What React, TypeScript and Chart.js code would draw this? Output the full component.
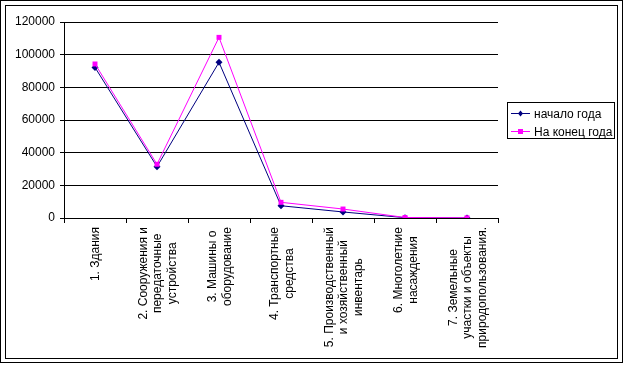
import React, { useEffect, useRef } from "react";
import { Chart, registerables } from "chart.js";

Chart.register(...registerables);

const categories: string[][] = [
  ["1. Здания"],
  ["2. Сооружения и", "передаточные", "устройства"],
  ["3. Машины о", "оборудование"],
  ["4. Транспортные", "средства"],
  ["5. Производственный", "и хозяйственный", "инвентарь"],
  ["6. Многолетние", "насаждения"],
  ["7. Земельные", "участки и объекты", "природопользования."],
];

const seriesNames = ["начало года", "На конец года"];
const startOfYear = [92200, 31400, 95300, 7500, 3700, 200, 0];
const endOfYear = [94300, 32900, 110600, 9600, 5500, 300, 100];
const yMin = 0;
const yMax = 120000;
const yStep = 20000;

const FONT = "Arial, 'Liberation Sans', sans-serif";
const NAVY = "#000080";
const MAGENTA = "#FF00FF";

const framePlugin = {
  id: "frame",
  beforeDraw(chart: any) {
    const ctx = chart.ctx;
    ctx.save();
    ctx.fillStyle = "#fff";
    ctx.fillRect(0, 0, chart.width, chart.height);
    ctx.strokeStyle = "#000";
    ctx.lineWidth = 1;
    ctx.strokeRect(0.5, 0.5, 622, 362);
    ctx.strokeRect(5.5, 5.5, 612, 353);
    ctx.restore();
  },
};

const xLabelPlugin = {
  id: "xLabels",
  afterDraw(chart: any) {
    const ctx = chart.ctx;
    const xs = chart.scales.x;
    ctx.save();
    ctx.font = `12px ${FONT}`;
    ctx.fillStyle = "#000";
    ctx.textAlign = "center";
    ctx.textBaseline = "middle";
    const lh = 14.5;
    categories.forEach((lines, i) => {
      const x = xs.getPixelForValue(i);
      const w = Math.max(...lines.map((l) => ctx.measureText(l).width));
      const top = xs.top + 9;
      ctx.save();
      ctx.translate(x, top + w / 2);
      ctx.rotate(-Math.PI / 2);
      lines.forEach((l, k) => {
        ctx.fillText(l, 0, (k - (lines.length - 1) / 2) * lh + 1);
      });
      ctx.restore();
    });
    ctx.restore();
  },
};

const legendPlugin = {
  id: "customLegend",
  afterDraw(chart: any) {
    const ctx = chart.ctx;
    const area = chart.chartArea;
    const left = Math.round(area.right) + 9;
    const top = 102;
    const w = 107;
    const h = 36;
    ctx.save();
    ctx.strokeStyle = "#000";
    ctx.lineWidth = 1;
    ctx.strokeRect(left + 0.5, top + 0.5, w, h);
    ctx.font = `12px ${FONT}`;
    ctx.textAlign = "left";
    ctx.textBaseline = "middle";
    const colors = [NAVY, MAGENTA];
    seriesNames.forEach((name, i) => {
      const y = top + 11.5 + i * 18;
      ctx.strokeStyle = colors[i];
      ctx.beginPath();
      ctx.moveTo(left + 4, y);
      ctx.lineTo(left + 23, y);
      ctx.stroke();
      ctx.fillStyle = colors[i];
      const cx = left + 13.5;
      if (i === 0) {
        ctx.beginPath();
        ctx.moveTo(cx, y - 3);
        ctx.lineTo(cx + 2.5, y);
        ctx.lineTo(cx, y + 3);
        ctx.lineTo(cx - 2.5, y);
        ctx.closePath();
        ctx.fill();
      } else {
        ctx.fillRect(cx - 2.5, y - 2.5, 5, 5);
      }
      ctx.fillStyle = "#000";
      ctx.fillText(name, left + 27, y + 1);
    });
    ctx.restore();
  },
};

export default function App() {
  const ref = useRef<HTMLCanvasElement | null>(null);

  useEffect(() => {
    if (!ref.current) return;
    const chart = new Chart(ref.current, {
      type: "line",
      data: {
        labels: categories.map((c) => c.join(" ")),
        datasets: [
          {
            label: seriesNames[0],
            data: startOfYear,
            borderColor: NAVY,
            backgroundColor: NAVY,
            borderWidth: 1,
            pointStyle: "rectRot",
            pointRadius: 3.5,
            pointBorderWidth: 0,
            tension: 0,
            order: 1,
          },
          {
            label: seriesNames[1],
            data: endOfYear,
            borderColor: MAGENTA,
            backgroundColor: MAGENTA,
            borderWidth: 1,
            pointStyle: "rect",
            pointRadius: 3.5,
            pointBorderWidth: 0,
            tension: 0,
            order: 0,
          },
        ],
      },
      options: {
        responsive: false,
        animation: false,
        devicePixelRatio: 1,
        layout: { padding: { top: 22, right: 125, bottom: 0, left: 0 } },
        plugins: {
          legend: { display: false },
          tooltip: { enabled: false },
        },
        scales: {
          x: {
            offset: true,
            grid: {
              offset: true,
              drawOnChartArea: false,
              drawTicks: true,
              tickLength: 5,
              color: "#000",
            },
            border: { display: true, color: "#000", width: 1 },
            ticks: { display: false },
            afterFit: (s: any) => {
              s.height = 147;
            },
          },
          y: {
            min: yMin,
            max: yMax,
            ticks: {
              stepSize: yStep,
              color: "#000",
              font: { family: FONT, size: 12 },
              padding: 5,
              callback: (v: any) => String(v),
            },
            grid: { color: "#000", lineWidth: 1, tickLength: 4, drawTicks: true },
            border: { display: true, color: "#000", width: 1 },
            afterFit: (s: any) => {
              s.width = 64;
            },
          },
        },
      },
      plugins: [framePlugin, xLabelPlugin, legendPlugin],
    });
    return () => chart.destroy();
  }, []);

  return (
    <div
      style={{
        position: "fixed",
        left: 0,
        top: 0,
        width: 623,
        height: 365,
        background: "#fff",
      }}
    >
      <canvas ref={ref} width={623} height={365} style={{ display: "block" }} />
    </div>
  );
}
